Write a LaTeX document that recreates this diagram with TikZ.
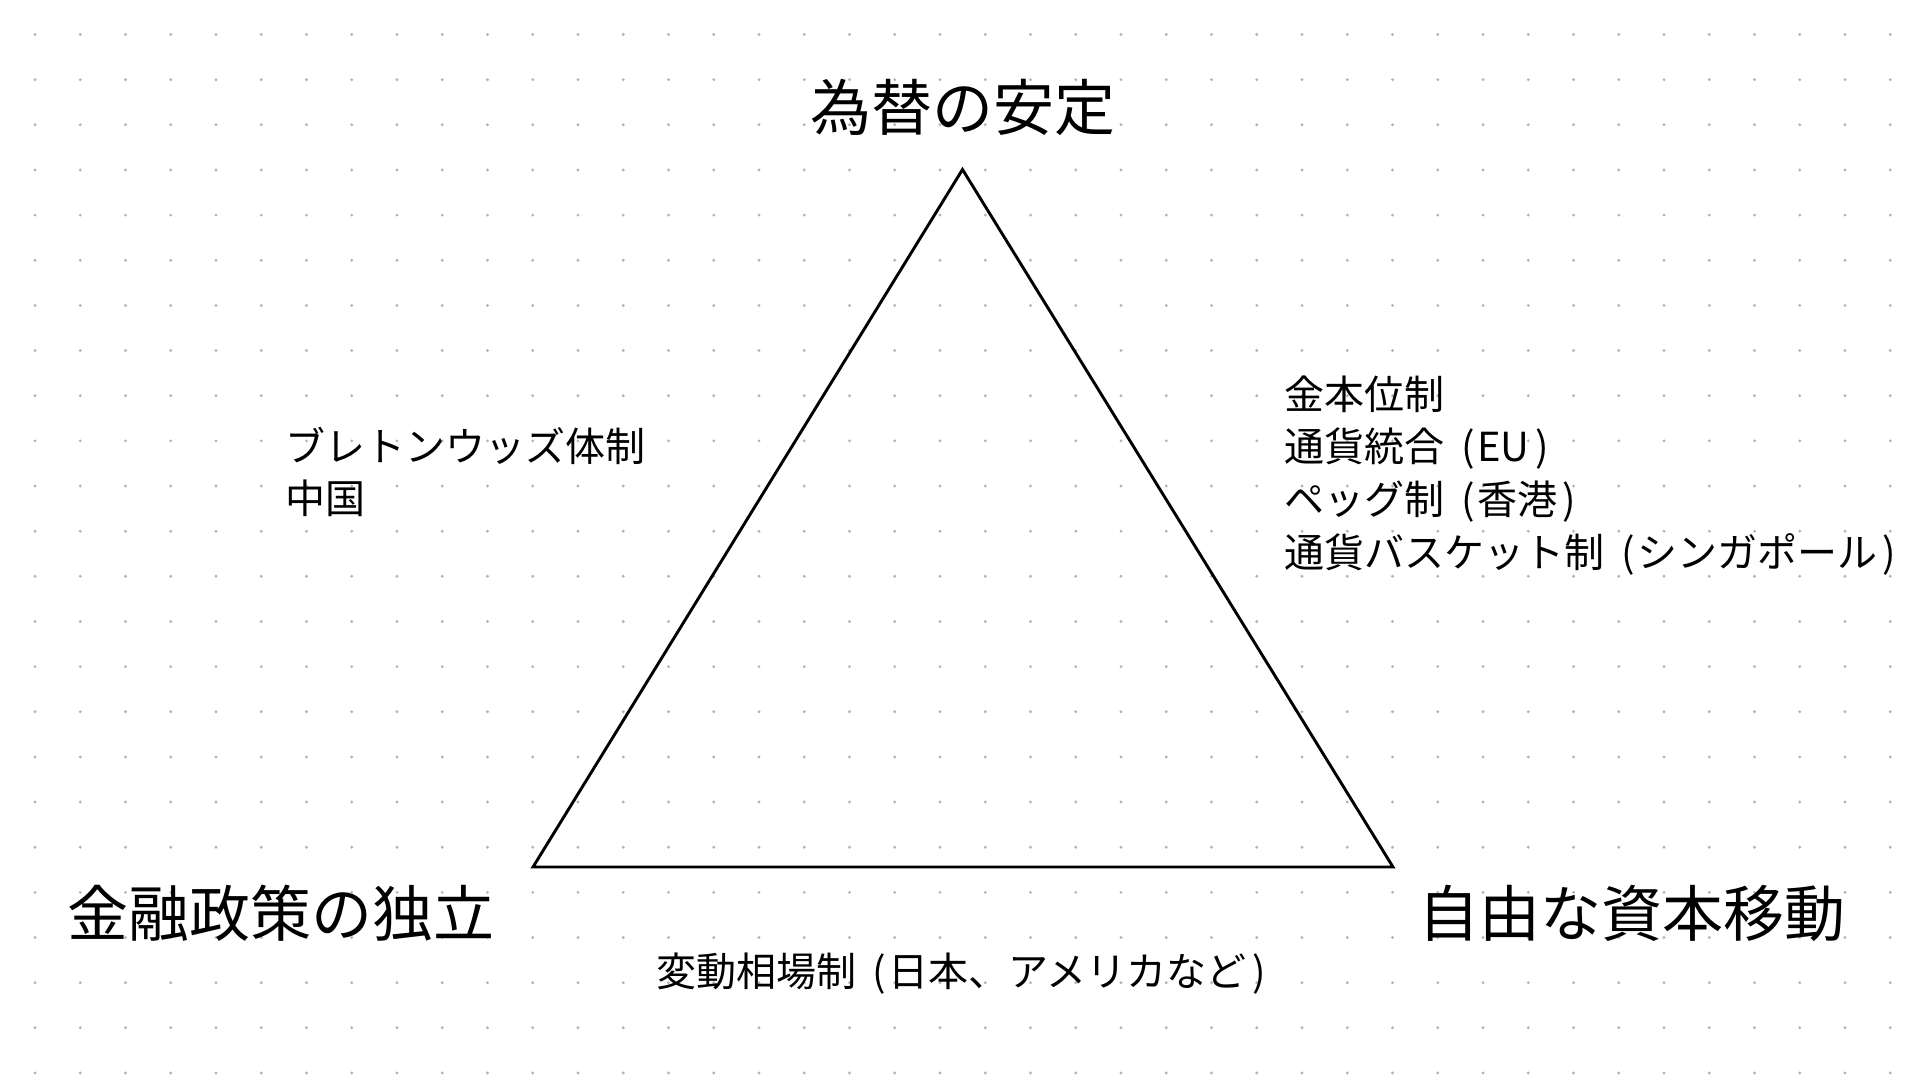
\documentclass[tikz,border=0pt]{standalone}
\usepackage{fontspec}
\setmainfont{Noto Sans CJK JP}
\usetikzlibrary{positioning}
\definecolor{dotgray}{HTML}{B4B4B4}
\newcommand{\paren}[1]{\hspace{0.2em}(\hspace{0.06em}#1\hspace{0.14em})}
\tikzset{
   goal/.style = {%
    anchor=base,
    inner sep=0pt,
    font=\fontsize{61}{61}\selectfont},
 regime/.style = {%
    anchor=base west,
    inner sep=0pt,
    font=\fontsize{40}{40}\selectfont},
   side/.style = {%
    draw=black,
    line width=2.9pt},
    }

\begin{document}
\begin{tikzpicture}[x=1pt,y=-1pt]
            \fill[white] (0,0) rectangle (1920,1080);
            \useasboundingbox (0,0) rectangle (1920,1080);
            % dot grid
            \foreach \i in {0,...,41}
                \foreach \j in {0,...,23}
                    \fill[dotgray] (35+\i*45.25,34.5+\j*45.15) circle (1.6);
            % trilemma
            \coordinate (vfx)  at (962.5,169.5);
            \coordinate (vmp)  at (533,867);
            \coordinate (vcap) at (1393,867);
            \draw[side] (vmp) -- (vfx) -- (vcap) -- cycle;
            \node[goal] (fx) at (963,130) {為替の安定};
            \node[goal, anchor=base west] (mp)  at (67,936)   {金融政策の独立};
            \node[goal, anchor=base west] (cap) at (1418,936) {自由な資本移動};
            % regimes
            \foreach \t [count=\i] in {{ブレトンウッズ体制}, {中国}}
                \node[regime] (l\i) at (285,408.3+\i*52.7) {\t};
            \foreach \t [count=\i] in {{金本位制}, {通貨統合 \paren{EU}}, {ペッグ制 \paren{香港}}, {通貨バスケット制 \paren{シンガポール}}}
                \node[regime] (r\i) at (1284,356.3+\i*52.7) {\t};
            \node[regime, anchor=base] (float) at (961,986) {変動相場制 \paren{日本、アメリカなど}};
        \end{tikzpicture}
\end{document}
